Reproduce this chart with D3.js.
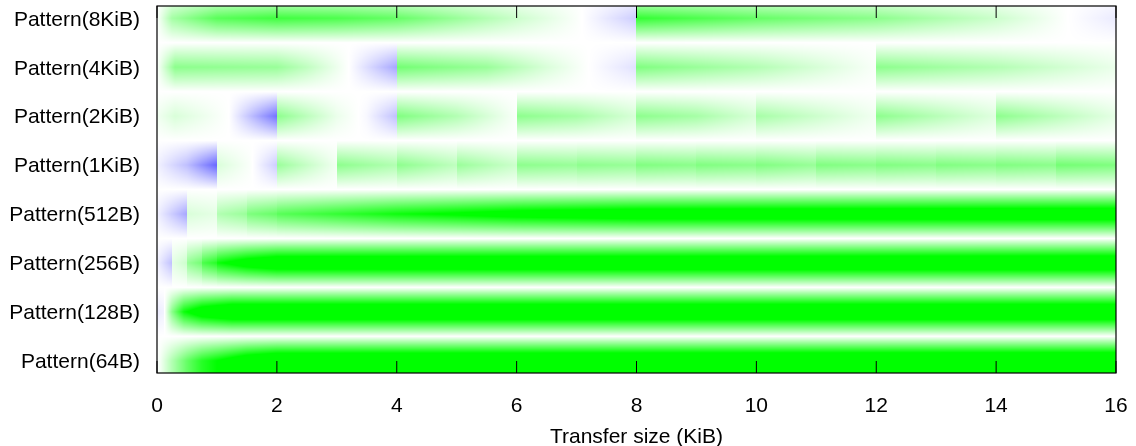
<!DOCTYPE html>
<html>
<head>
<meta charset="utf-8">
<script src="https://cdn.jsdelivr.net/npm/d3@7"></script>
<style>
  html, body { margin: 0; padding: 0; background: #fff; }
  #wrap { position: relative; width: 1136px; height: 446px; overflow: hidden; }
  #heat { position: absolute; }
  svg { position: absolute; left: 0; top: 0; }
  text { font-family: "Liberation Sans", Arial, Helvetica, sans-serif; fill: #000; }
</style>
</head>
<body>
<div id="wrap">
  <canvas id="heat"></canvas>
  <svg id="axes" width="1136" height="446"></svg>
</div>
<script>
// Row labels, bottom to top
const patterns = [
  "Pattern(64B)", "Pattern(128B)", "Pattern(256B)", "Pattern(512B)",
  "Pattern(1KiB)", "Pattern(2KiB)", "Pattern(4KiB)", "Pattern(8KiB)"
];
const xTicks = [0, 2, 4, 6, 8, 10, 12, 14, 16];

// Relative result per pattern: [transfer size (KiB), value]; positive = green, negative = blue.
// A repeated size marks a step at a pattern boundary.
const p64B = [[0, 0], [0.0625, 0.05], [0.25, 0.3], [0.5, 0.6], [0.75, 0.85], [1, 1.0], [1.5, 1.3], [2, 1.45], [16, 1.5]];
const p128B = [[0, -0.08], [0.12, -0.05], [0.125, 0.0], [0.25, 0.45], [0.45, 0.95], [0.75, 1.25], [1.25, 1.45], [16, 1.45]];
const p256B = [[0, -0.05], [0.25, -0.25], [0.25, 0.1], [0.5, 0.2], [0.5, 0.4], [0.75, 0.55], [0.75, 0.7],
  [1, 0.85], [1, 0.95], [1.5, 1.2], [2, 1.35], [16, 1.4]];
const p512B = [[0, -0.05], [0.5, -0.35], [0.5, 0.15], [1, 0.1], [1, 0.3], [1.5, 0.4], [1.5, 0.5], [2, 0.6],
  [2, 0.65], [3, 0.8], [4, 0.95], [6, 1.15], [8, 1.25], [16, 1.3]];
const p1KiB = [[0, -0.05], [0.5, -0.25], [1, -0.6], [1, 0.15], [1.55, 0.02], [2, -0.2], [2, 0.4], [3, 0.05],
  [3, 0.45], [4, 0.3], [4, 0.45], [5, 0.25], [5, 0.4], [6, 0.2], [6, 0.45], [7, 0.4], [7, 0.45], [8, 0.4],
  [8, 0.5], [9, 0.45], [9, 0.5], [10, 0.45], [10, 0.5], [11, 0.4], [11, 0.5], [12, 0.45], [12, 0.5],
  [13, 0.45], [13, 0.5], [14, 0.45], [14, 0.5], [15, 0.45], [15, 0.55], [16, 0.5]];
const p2KiB = [[0, 0.05], [0.3, 0.15], [1.2, 0.0], [2, -0.55], [2, 0.45], [3, 0.08], [3.5, -0.03], [4, -0.25],
  [4, 0.5], [5, 0.3], [6, 0.02], [6, 0.45], [7, 0.35], [8, 0.15], [8, 0.45], [9, 0.35], [10, 0.15],
  [10, 0.35], [12, 0.05], [12, 0.45], [14, 0.12], [14, 0.45], [16, 0.1]];
const p4KiB = [[0, 0], [0.3, 0.45], [2, 0.4], [2.5, 0.25], [3.2, 0], [4, -0.35], [4, 0.55], [5.5, 0.4],
  [6.5, 0.15], [7.2, 0], [8, -0.12], [8, 0.5], [10, 0.3], [12, 0.02], [12, 0.45], [14, 0.3], [16, 0.08]];
const p8KiB = [[0, 0], [0.25, 0.35], [1, 0.65], [2, 0.75], [3, 0.7], [4, 0.6], [5, 0.4], [6, 0.2], [7, 0.02],
  [8, -0.2], [8, 0.8], [10, 0.6], [12, 0.45], [14, 0.2], [15.2, 0], [16, -0.08]];

const rows = [p64B, p128B, p256B, p512B, p1KiB, p2KiB, p4KiB, p8KiB];

const plot = { left: 157, right: 1116, top: 6, bottom: 373 };

const x = d3.scaleLinear().domain([0, 16]).range([plot.left, plot.right]);
const y = d3.scaleLinear().domain([-0.25, 7.25]).range([plot.bottom, plot.top]);
const color = d3.scaleLinear().domain([-1, 0, 1]).range(["#0000ff", "#ffffff", "#00ff00"]).clamp(true);

// one piecewise-linear lookup per pattern row
const rowScales = rows.map(r => d3.scaleLinear().domain(r.map(d => d[0])).range(r.map(d => d[1])).clamp(true));

// heat map raster: each row fades to white half way to its neighbours;
// the lowest row keeps its full value down to the frame
const cw = plot.right - plot.left, ch = plot.bottom - plot.top;
const canvas = document.getElementById("heat");
canvas.width = cw; canvas.height = ch;
canvas.style.left = plot.left + "px";
canvas.style.top = plot.top + "px";
const ctx = canvas.getContext("2d");
const img = ctx.createImageData(cw, ch);
const colCache = new Array(cw);
for (let px = 0; px < cw; px++) {
  const kib = x.invert(plot.left + px + 0.5);
  colCache[px] = rowScales.map(s => s(kib));
}
for (let py = 0; py < ch; py++) {
  const yi = y.invert(plot.top + py + 0.5);
  const r = Math.max(0, Math.min(rows.length - 1, Math.round(yi)));
  const w = yi < 0 ? 1 : Math.max(0, 1 - 2 * Math.abs(yi - r));
  for (let px = 0; px < cw; px++) {
    const c = d3.rgb(color(colCache[px][r] * w));
    const k = (py * cw + px) * 4;
    img.data[k] = c.r; img.data[k + 1] = c.g; img.data[k + 2] = c.b; img.data[k + 3] = 255;
  }
}
ctx.putImageData(img, 0, 0);

// axes, border and labels
const svg = d3.select("#axes");
const tickLen = 12;
const fontSize = 21;

svg.append("g").selectAll("line").data(xTicks).join("line")
  .attr("x1", d => x(d)).attr("x2", d => x(d))
  .attr("y1", plot.bottom).attr("y2", plot.bottom - tickLen)
  .attr("stroke", "#000").attr("stroke-width", 1);
svg.append("g").selectAll("line").data(xTicks).join("line")
  .attr("x1", d => x(d)).attr("x2", d => x(d))
  .attr("y1", plot.top).attr("y2", plot.top + tickLen)
  .attr("stroke", "#000").attr("stroke-width", 1);

svg.append("rect")
  .attr("x", plot.left).attr("y", plot.top)
  .attr("width", plot.right - plot.left).attr("height", plot.bottom - plot.top)
  .attr("fill", "none").attr("stroke", "#000").attr("stroke-width", 1.2);

svg.append("g").selectAll("text").data(xTicks).join("text")
  .attr("x", d => x(d)).attr("y", 412)
  .attr("text-anchor", "middle")
  .attr("font-size", fontSize)
  .text(d => d);

svg.append("g").selectAll("text").data(patterns).join("text")
  .attr("x", 140).attr("y", (d, i) => y(i))
  .attr("dy", "0.35em")
  .attr("text-anchor", "end")
  .attr("font-size", fontSize)
  .text(d => d);

svg.append("text")
  .attr("x", (plot.left + plot.right) / 2).attr("y", 443)
  .attr("text-anchor", "middle")
  .attr("font-size", fontSize)
  .text("Transfer size (KiB)");
</script>
</body>
</html>
